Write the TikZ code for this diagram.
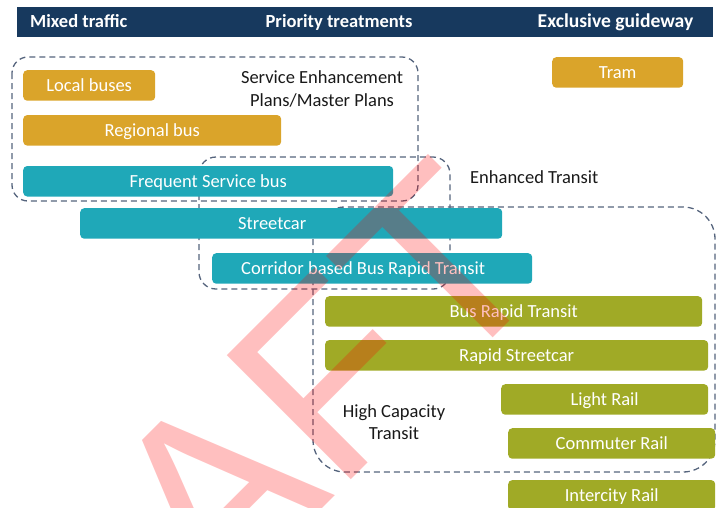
\documentclass[tikz,border=0pt]{standalone}
\usepackage{fontspec}
\setmainfont{Carlito}
\newfontfamily\wmfont{Liberation Sans}
\usetikzlibrary{positioning}

\definecolor{headblue}{RGB}{23,57,94}
\definecolor{busgold}{RGB}{218,164,42}
\definecolor{busteal}{RGB}{31,168,184}
\definecolor{railolive}{RGB}{160,170,38}
\definecolor{groupgray}{RGB}{85,100,125}

\begin{document}
\begin{tikzpicture}[
		x=1pt, y=-1pt, % screen-like coordinates
		head/.style={rectangle, fill=headblue, minimum width=696pt, minimum height=30pt, inner sep=0, anchor=north west},
		headtext/.style={text=white, font=\bfseries\fontsize{18.5}{22}\selectfont, inner sep=0},
		bartext/.style={text=white, font=\fontsize{18.5}{22}\selectfont, text height=12pt, text depth=0pt, inner sep=0},
		bar/.style={bartext, rectangle, rounded corners=4pt, minimum height=30.5pt, anchor=north west},
		goldbar/.style={bar, fill=busgold},
		tealbar/.style={bar, fill=busteal},
		olivebar/.style={bar, fill=railolive},
		group/.style={draw=groupgray, line width=1.3pt, dash pattern=on 6pt off 4pt, rounded corners=#1},
		note/.style={text=black!90, font=\fontsize{18.5}{22.5}\selectfont, align=center, inner sep=0},
		wmark/.style={text=red, text opacity=0.25, font=\wmfont\fontsize{255}{255}\selectfont, inner sep=0}
		]
		\useasboundingbox (0,0) rectangle (717,507);
		\clip (0,0) rectangle (717,507);
		
		% Header
		\node[head] (band) at (17,7) {};
		\node[headtext, anchor=base west] (mixed) at (30,27) {Mixed traffic};
		\node[headtext, anchor=base] (priority) at (339,27) {Priority treatments};
		\node[headtext, anchor=base, font=\bfseries\fontsize{19.6}{22}\selectfont] (exclusive) at (615.5,27) {Exclusive guideway};
		
		% Groups
		\draw[group=16pt] (12,57) rectangle (418,201);
		\draw[group=17pt] (199,157) rectangle (450,289);
		\draw[group=32pt] (313,207) rectangle (715,472);
		
		% Mixed traffic modes
		\node[goldbar, minimum width=131pt] (tram) at (552,57) {Tram};
		\node[goldbar, minimum width=132pt] (local) at (23,70) {Local buses};
		\node[goldbar, minimum width=258pt, below=14pt of local.south west, anchor=north west] (regional) {Regional bus};
		\node[tealbar, minimum width=370pt, below=20pt of regional.south west, anchor=north west] (frequent) {Frequent Service bus};
		\node[tealbar, minimum width=422pt, label={[bartext, xshift=-19pt]center:Streetcar}] (streetcar) at (80,208) {};
		\node[tealbar, minimum width=320pt, label={[bartext, xshift=-9pt]center:Corridor based Bus Rapid Transit}] (corridor) at (212,253) {};
		
		% High capacity modes
		\node[olivebar, minimum width=377pt] (brt) at (325,296) {Bus Rapid Transit};
		\node[olivebar, minimum width=383pt, below=13pt of brt.south west, anchor=north west] (rapidsc) {Rapid Streetcar};
		\node[olivebar, minimum width=207pt] (lightrail) at (501,384) {Light Rail};
		\node[olivebar, minimum width=207pt] (commuter) at (508,428) {Commuter Rail};
		\node[olivebar, minimum width=207pt, below=21pt of commuter.south west, anchor=north west] (intercity) {Intercity Rail};
		
		% Group labels
		\node[note] (sepnote) at (322,89) {Service Enhancement\\Plans/Master Plans};
		\node[note, anchor=base west] (etnote) at (470,183) {Enhanced Transit};
		\node[note] (hctnote) at (394,422) {High Capacity\\Transit};
		
		% Watermark
		\node[wmark, rotate=45, anchor=base] (draft) at (256,575) {DRAFT};
		
	\end{tikzpicture}
\end{document}
